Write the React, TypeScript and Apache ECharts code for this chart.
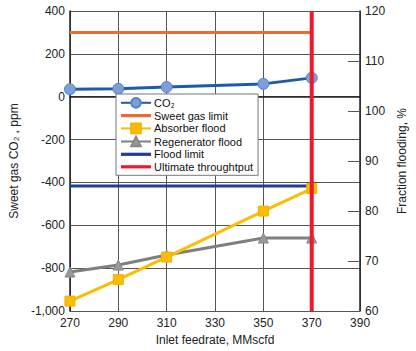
import React, { useEffect, useRef } from "react";
import * as echarts from "echarts";

const feedrates = [270, 290, 310, 350, 370];
const co2 = [35, 37, 45, 60, 88];
const absorberFlood = [62, 66.3, 70.8, 80, 84.5];
const regeneratorFlood = [67.8, 69.2, 71.2, 74.6, 74.6];
const sweetGasLimit = 300;
const floodLimit = 85;
const ultimateThroughput = 370;
const limitRange = [270, 370];
const leftRange = [-1000, 400];

const FONT = '"Liberation Sans Narrow", "Liberation Sans", Arial, sans-serif';
const BAR_ICON = "path://M0,0 L30,0 L30,3.2 L0,3.2 Z";

export default function App() {
  const ref = useRef<HTMLDivElement>(null);
  useEffect(() => {
    if (!ref.current) return;
    const chart = echarts.init(ref.current, undefined, { renderer: "svg" });
    const pair = (ys: number[]) => feedrates.map((x, i) => [x, ys[i]]);
    chart.setOption({
      animation: false,
      textStyle: { fontFamily: FONT, color: "#222" },
      grid: { left: 44, right: 35, top: 11, bottom: 35 },
      legend: {
        orient: "vertical",
        left: 116,
        top: 94,
        backgroundColor: "#fff",
        borderColor: "#777",
        borderWidth: 1,
        borderRadius: 0,
        padding: [3, 5, 3, 4],
        itemWidth: 30,
        itemHeight: 12,
        itemGap: 1.5,
        textStyle: { fontFamily: FONT, fontSize: 11, color: "#111", padding: [0, 0, 0, -2] },
        data: [
          { name: "CO₂" },
          { name: "Sweet gas limit", icon: BAR_ICON },
          { name: "Absorber flood" },
          { name: "Regenerator flood" },
          { name: "Flood limit", icon: BAR_ICON },
          { name: "Ultimate throughtput", icon: BAR_ICON },
        ],
      },
      xAxis: {
        type: "value",
        min: 270,
        max: 390,
        interval: 20,
        name: "Inlet feedrate, MMscfd",
        nameLocation: "middle",
        nameGap: 21,
        nameTextStyle: { fontFamily: FONT, fontSize: 12, color: "#222" },
        axisLine: { lineStyle: { color: "#222", width: 1.5 } },
        axisTick: { show: false },
        axisLabel: { fontFamily: FONT, fontSize: 12, color: "#222", margin: 6 },
        splitLine: { lineStyle: { color: "#555", width: 1 } },
      },
      yAxis: [
        {
          type: "value",
          min: leftRange[0],
          max: leftRange[1],
          interval: 200,
          name: "Sweet gas CO₂ , ppm",
          nameLocation: "middle",
          nameRotate: 90,
          nameGap: 35,
          nameTextStyle: { fontFamily: FONT, fontSize: 12, color: "#222" },
          axisLine: { show: true, lineStyle: { color: "#222", width: 1.5 } },
          axisTick: { show: false },
          axisLabel: {
            fontFamily: FONT,
            fontSize: 12,
            color: "#222",
            margin: 5,
            formatter: (v: number) => (v < 0 ? "-" : "") + Math.abs(v).toLocaleString("en-US"),
          },
          splitLine: { lineStyle: { color: "#555", width: 1 } },
        },
        {
          type: "value",
          min: 60,
          max: 120,
          interval: 10,
          position: "right",
          name: "Fraction flooding, %",
          nameLocation: "middle",
          nameRotate: 90,
          nameGap: 24,
          nameTextStyle: { fontFamily: FONT, fontSize: 12, color: "#222" },
          axisLine: { show: true, lineStyle: { color: "#222", width: 1.5 } },
          axisTick: { show: true, inside: true, length: 12, lineStyle: { color: "#555", width: 1 } },
          axisLabel: { fontFamily: FONT, fontSize: 12, color: "#222", margin: 5 },
          splitLine: { show: false },
        },
      ],
      series: [
        {
          name: "Sweet gas limit",
          type: "line",
          yAxisIndex: 0,
          data: limitRange.map((x) => [x, sweetGasLimit]),
          symbol: "none",
          lineStyle: { color: "#ee6a30", width: 3 },
          itemStyle: { color: "#ee6a30" },
        },
        {
          name: "Flood limit",
          type: "line",
          yAxisIndex: 1,
          data: limitRange.map((x) => [x, floodLimit]),
          symbol: "none",
          lineStyle: { color: "#203c9a", width: 3 },
          itemStyle: { color: "#203c9a" },
        },
        {
          name: "Regenerator flood",
          type: "line",
          yAxisIndex: 1,
          data: pair(regeneratorFlood),
          symbol: "triangle",
          symbolSize: 10,
          lineStyle: { color: "#7f7f7f", width: 3 },
          itemStyle: { color: "#999", borderColor: "#888", borderWidth: 1 },
        },
        {
          name: "Absorber flood",
          type: "line",
          yAxisIndex: 1,
          data: pair(absorberFlood),
          symbol: "rect",
          symbolSize: 10,
          lineStyle: { color: "#fbbd00", width: 3 },
          itemStyle: { color: "#fbbd00", borderColor: "#f5b000", borderWidth: 1 },
        },
        {
          name: "CO₂",
          type: "line",
          yAxisIndex: 0,
          data: pair(co2),
          symbol: "circle",
          symbolSize: 11,
          lineStyle: { color: "#1f5aa8", width: 3 },
          itemStyle: { color: "#7c9fd9", borderColor: "#5a82c4", borderWidth: 1 },
        },
        {
          name: "Ultimate throughtput",
          type: "line",
          yAxisIndex: 0,
          data: leftRange.map((y) => [ultimateThroughput, y]),
          symbol: "none",
          lineStyle: { color: "#f0182a", width: 4 },
          itemStyle: { color: "#f0182a" },
          z: 5,
        },
      ],
    });
    return () => chart.dispose();
  }, []);
  return (
    <div
      ref={ref}
      style={{ position: "absolute", left: 0, top: 0, width: 416, height: 351 }}
    />
  );
}
